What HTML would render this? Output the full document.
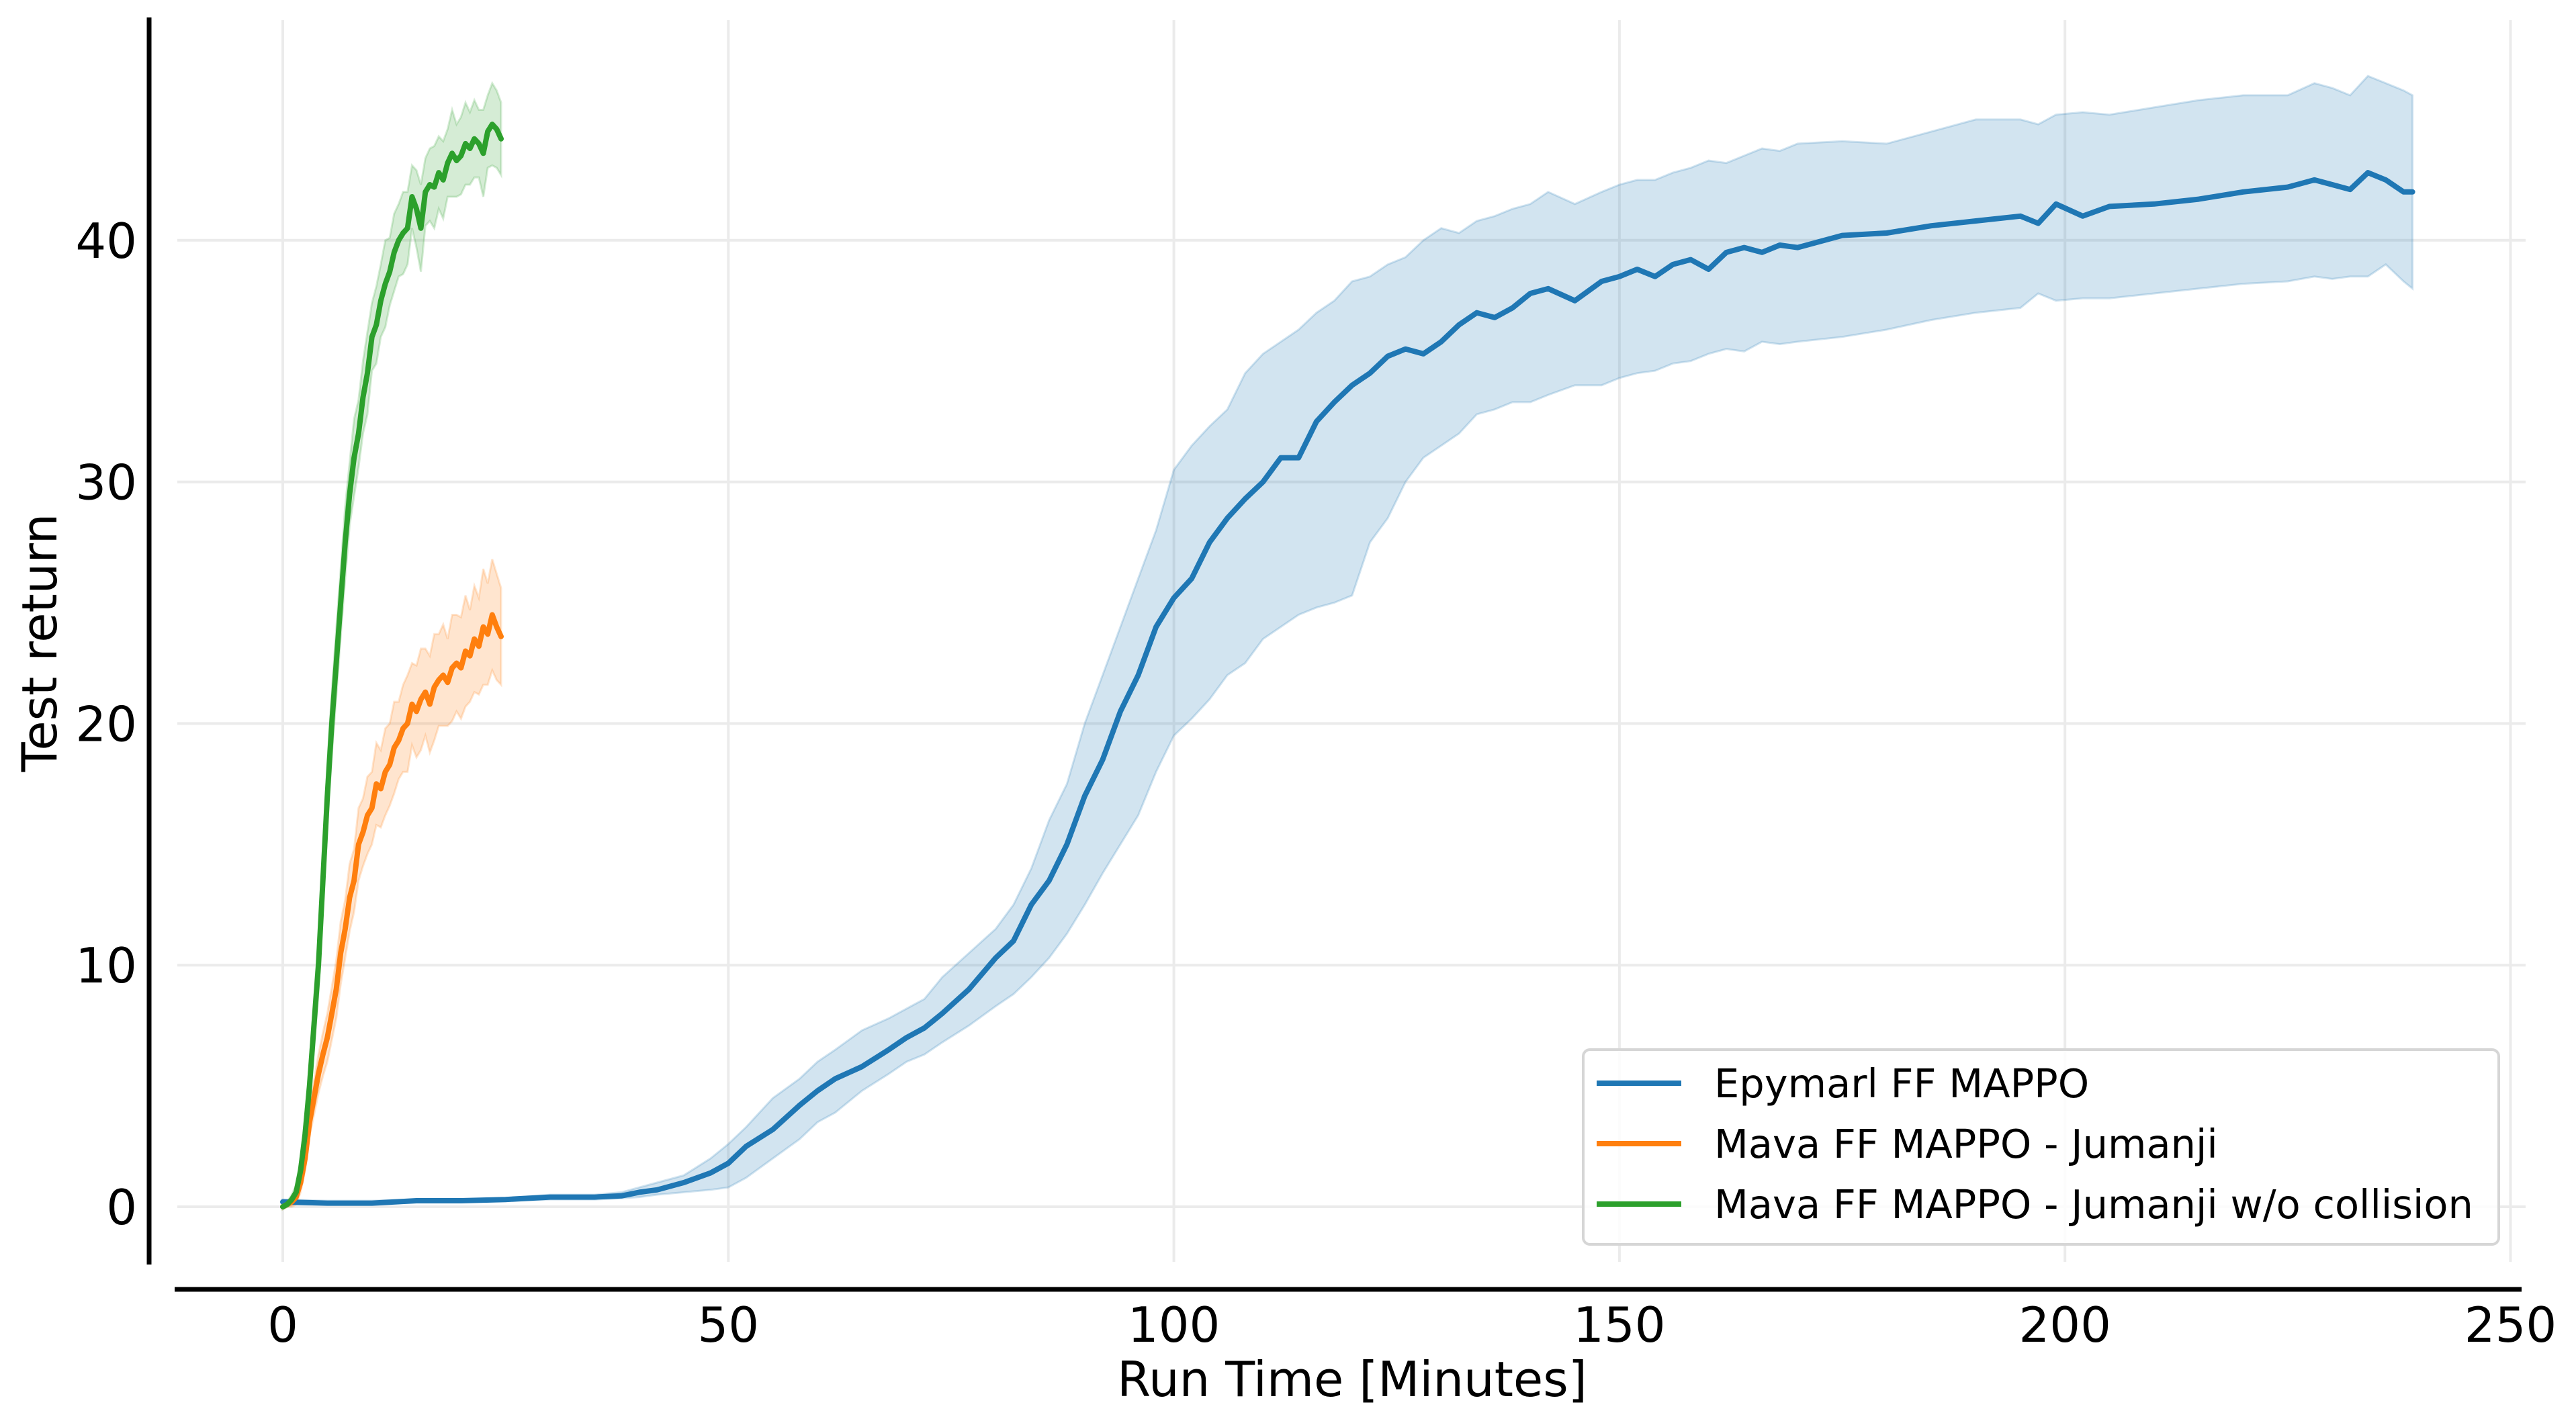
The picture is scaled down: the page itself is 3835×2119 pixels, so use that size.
<!DOCTYPE html>
<html><head><meta charset="utf-8"><style>
html,body{margin:0;padding:0;background:#fff;}
svg{display:block;font-family:"DejaVu Sans","Liberation Sans",sans-serif;}
</style></head><body>
<svg id="chart" width="3835" height="2119" viewBox="0 0 3835 2119" xmlns="http://www.w3.org/2000/svg">
<g id="grid"></g>
<g id="series"></g>
<line x1="222" y1="26" x2="222" y2="1883" stroke="#000" stroke-width="7"/>
<line x1="260" y1="1920" x2="3754" y2="1920" stroke="#000" stroke-width="7"/>
<g id="ticks"></g>
<text x="2013" y="2079" font-size="72" text-anchor="middle">Run Time [Minutes]</text>
<text transform="translate(84,957) rotate(-90)" font-size="72" text-anchor="middle">Test return</text>
<g>
<rect x="2357" y="1563" width="1363" height="290" rx="10" fill="#fff" fill-opacity="0.85" stroke="#d6d6d6" stroke-width="4"/>
<g><line x1="2377" y1="1613" x2="2503" y2="1613" stroke="#1f77b4" stroke-width="8"/><text x="2552" y="1634" font-size="59">Epymarl FF MAPPO</text></g>
<g><line x1="2377" y1="1703" x2="2503" y2="1703" stroke="#ff7f0e" stroke-width="8"/><text x="2552" y="1724" font-size="59">Mava FF MAPPO - Jumanji</text></g>
<g><line x1="2377" y1="1793" x2="2503" y2="1793" stroke="#2ca02c" stroke-width="8"/><text x="2552" y="1814" font-size="59">Mava FF MAPPO - Jumanji w/o collision</text></g>
</g>
</svg>
<script>
const xTicks = [0, 50, 100, 150, 200, 250];
const yTicks = [0, 10, 20, 30, 40];
const blueX = [0,5,10,15,20,25,30,35,38,40,42,45,48,50,52,55,58,60,62,65,68,70,72,74,77,80,82,84,86,88,90,92,94,96,98,100,102,104,106,108,110,112,114,116,118,120,122,124,126,128,130,132,134,136,138,140,142,145,148,150,152,154,156,158,160,162,164,166,168,170,175,180,185,190,195,197,199,202,205,210,215,220,225,228,230,232,234,236,238,239];
const blueMean = [0.2,0.15,0.15,0.25,0.25,0.3,0.4,0.4,0.45,0.6,0.7,1.0,1.4,1.8,2.5,3.2,4.2,4.8,5.3,5.8,6.5,7,7.4,8,9,10.3,11,12.5,13.5,15,17,18.5,20.5,22,24,25.2,26,27.5,28.5,29.3,30,31,31,32.5,33.3,34,34.5,35.2,35.5,35.3,35.8,36.5,37,36.8,37.2,37.8,38,37.5,38.3,38.5,38.8,38.5,39,39.2,38.8,39.5,39.7,39.5,39.8,39.7,40.2,40.3,40.6,40.8,41,40.7,41.5,41,41.4,41.5,41.7,42,42.2,42.5,42.3,42.1,42.8,42.5,42,42];
const blueLower = [0.1,0.1,0.1,0.2,0.2,0.25,0.3,0.3,0.35,0.4,0.5,0.6,0.7,0.8,1.2,2,2.8,3.5,3.9,4.8,5.5,6,6.3,6.8,7.5,8.3,8.8,9.5,10.3,11.3,12.5,13.8,15,16.2,18,19.5,20.2,21,22,22.5,23.5,24,24.5,24.8,25,25.3,27.5,28.5,30,31,31.5,32,32.8,33,33.3,33.3,33.6,34,34,34.3,34.5,34.6,34.9,35,35.3,35.5,35.4,35.8,35.7,35.8,36,36.3,36.7,37,37.2,37.8,37.5,37.6,37.6,37.8,38,38.2,38.3,38.5,38.4,38.5,38.5,39,38.3,38];
const blueUpper = [0.3,0.25,0.25,0.3,0.3,0.35,0.5,0.5,0.6,0.8,1.0,1.3,2,2.6,3.3,4.5,5.3,6,6.5,7.3,7.8,8.2,8.6,9.5,10.5,11.5,12.5,14,16,17.5,20,22,24,26,28,30.5,31.5,32.3,33,34.5,35.3,35.8,36.3,37,37.5,38.3,38.5,39,39.3,40,40.5,40.3,40.8,41,41.3,41.5,42,41.5,42,42.3,42.5,42.5,42.8,43,43.3,43.2,43.5,43.8,43.7,44,44.1,44,44.5,45,45,44.8,45.2,45.3,45.2,45.5,45.8,46,46,46.5,46.3,46,46.8,46.5,46.2,46];
const mavaX = [0,0.5,1,1.5,2,2.5,3,3.5,4,4.5,5,5.5,6,6.5,7,7.5,8,8.5,9,9.5,10,10.5,11,11.5,12,12.5,13,13.5,14,14.5,15,15.5,16,16.5,17,17.5,18,18.5,19,19.5,20,20.5,21,21.5,22,22.5,23,23.5,24,24.5];
const greenMean = [0,0.1,0.3,0.6,1.5,3,5,7.5,10,13.5,17,20,22.5,25,27.5,29.5,31,32,33.5,34.5,36,36.5,37.5,38.2,38.7,39.5,40,40.3,40.5,41.8,41.3,40.5,42,42.3,42.2,42.8,42.5,43.2,43.6,43.3,43.5,44,43.8,44.2,44,43.6,44.5,44.8,44.6,44.2];
const greenSpread = [0.1,0.1,0.2,0.3,0.5,0.7,0.9,1,1.1,1.2,1.3,1.3,1.4,1.4,1.5,1.3,1.6,1.4,1.5,1.7,1.4,1.6,1.5,1.8,1.4,1.6,1.5,1.7,1.5,1.3,1.6,1.8,1.4,1.5,1.7,1.5,1.6,1.4,1.8,1.5,1.6,1.7,1.5,1.6,1.4,1.8,1.5,1.7,1.6,1.5];
const orangeMean = [0,0.1,0.2,0.4,1,2,3.5,4.5,5.5,6.3,7,8,9,10.5,11.5,12.8,13.5,15,15.5,16.2,16.5,17.5,17.3,18,18.3,19,19.3,19.8,20,20.8,20.5,21,21.3,20.8,21.5,21.8,22,21.7,22.3,22.5,22.3,23,22.8,23.5,23.2,24,23.7,24.5,24,23.6];
const orangeSpread = [0.1,0.1,0.2,0.3,0.4,0.5,0.6,0.7,0.8,0.9,1,1.1,1.2,1.3,1.2,1.4,1.3,1.5,1.4,1.6,1.5,1.7,1.6,1.8,1.7,1.9,1.6,1.8,2,1.7,1.9,2.1,1.8,2,2.2,1.9,2.1,1.8,2.2,2,2.1,2.3,1.9,2.2,2,2.4,2.1,2.3,2.2,2];

const NS = 'http://www.w3.org/2000/svg';
const X0 = 421, XPER = 13.266, Y0 = 1797, YPER = 35.98;
function sx(v){ return X0 + v * XPER; }
function sy(v){ return Y0 - v * YPER; }
function mk(tag, attrs, parent){
  const el = document.createElementNS(NS, tag);
  for (const k in attrs) el.setAttribute(k, attrs[k]);
  parent.appendChild(el);
  return el;
}
const grid = document.getElementById('grid');
const ticks = document.getElementById('ticks');
const series = document.getElementById('series');

xTicks.forEach(t => {
  const g = mk('line', {x1: sx(t), x2: sx(t), y1: 30, y2: 1879, stroke: '#ebebeb', 'stroke-width': 4}, grid);
  
  
  const lb = mk('text', {x: sx(t), y: 1998, 'font-size': 72, 'text-anchor': 'middle'}, ticks);
  lb.textContent = t;
  
  
});
yTicks.forEach(t => {
  const g = mk('line', {x1: 264, x2: 3760, y1: sy(t), y2: sy(t), stroke: '#ebebeb', 'stroke-width': 4}, grid);
  
  
  const lb = mk('text', {x: 204, y: sy(t) + 26, 'font-size': 72, 'text-anchor': 'end'}, ticks);
  lb.textContent = t;
  
  
});

function band(xs, lo, hi, color, op, name){
  let d = '';
  xs.forEach((x, i) => { d += (i ? 'L' : 'M') + sx(x).toFixed(1) + ',' + sy(hi[i]).toFixed(1); });
  for (let i = xs.length - 1; i >= 0; i--) d += 'L' + sx(xs[i]).toFixed(1) + ',' + sy(lo[i]).toFixed(1);
  d += 'Z';
  const p = mk('path', {d: d, fill: color, 'fill-opacity': op, stroke: color, 'stroke-opacity': op, 'stroke-width': 3}, series);
  
  
}
function line(xs, ys, color, name){
  let d = '';
  xs.forEach((x, i) => { d += (i ? 'L' : 'M') + sx(x).toFixed(1) + ',' + sy(ys[i]).toFixed(1); });
  const p = mk('path', {d: d, fill: 'none', stroke: color, 'stroke-width': 8, 'stroke-linejoin': 'round', 'stroke-linecap': 'round'}, series);
  
  
}
band(blueX, blueLower, blueUpper, '#1f77b4', 0.2, 'epymarl-band');
band(mavaX, orangeMean.map((m,i)=>m-orangeSpread[i]), orangeMean.map((m,i)=>m+orangeSpread[i]), '#ff7f0e', 0.2, 'mava-jumanji-band');
band(mavaX, greenMean.map((m,i)=>m-greenSpread[i]), greenMean.map((m,i)=>m+greenSpread[i]), '#2ca02c', 0.2, 'mava-no-collision-band');
line(blueX, blueMean, '#1f77b4', 'epymarl-line');
line(mavaX, orangeMean, '#ff7f0e', 'mava-jumanji-line');
line(mavaX, greenMean, '#2ca02c', 'mava-no-collision-line');
</script>
</body></html>
